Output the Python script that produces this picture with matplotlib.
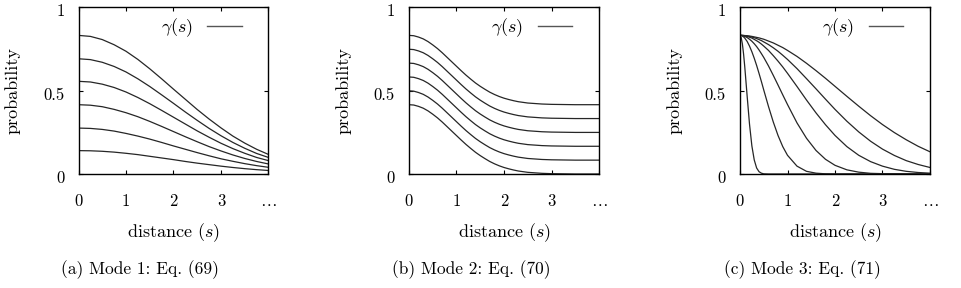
import matplotlib
matplotlib.use("Agg")
import matplotlib.pyplot as plt
import matplotlib.transforms as mtransforms
from matplotlib.lines import Line2D

plt.rcParams['font.family'] = 'serif'
plt.rcParams['font.serif'] = ['cmr10', 'DejaVu Serif']
plt.rcParams['mathtext.fontset'] = 'cm'
plt.rcParams['axes.unicode_minus'] = False

# mode 1 (Eq. 69)
s_a = [0, 0.25, 0.5, 0.75, 1, 1.25, 1.5, 1.75, 2, 2.25, 2.5, 2.75, 3, 3.25, 3.5, 3.75, 4]
mode1 = [
    [0.830, 0.824, 0.805, 0.774, 0.735, 0.686, 0.630, 0.570, 0.508, 0.447, 0.386, 0.329, 0.276, 0.227, 0.185, 0.148, 0.117],
    [0.690, 0.685, 0.669, 0.644, 0.611, 0.570, 0.524, 0.474, 0.423, 0.371, 0.321, 0.273, 0.229, 0.189, 0.154, 0.123, 0.099],
    [0.555, 0.551, 0.538, 0.518, 0.491, 0.458, 0.421, 0.381, 0.340, 0.299, 0.258, 0.220, 0.184, 0.152, 0.124, 0.099, 0.080],
    [0.415, 0.412, 0.403, 0.387, 0.367, 0.343, 0.315, 0.285, 0.254, 0.223, 0.193, 0.164, 0.138, 0.114, 0.093, 0.075, 0.060],
    [0.275, 0.273, 0.267, 0.257, 0.243, 0.227, 0.209, 0.189, 0.168, 0.148, 0.128, 0.109, 0.091, 0.076, 0.062, 0.050, 0.040],
    [0.140, 0.139, 0.136, 0.131, 0.124, 0.116, 0.106, 0.096, 0.086, 0.075, 0.065, 0.056, 0.047, 0.039, 0.032, 0.026, 0.021],
]

# mode 2 (Eq. 70)
s_b = [0, 0.1, 0.2, 0.3, 0.4, 0.5, 0.6, 0.7, 0.8, 0.9, 1.0, 1.1, 1.2, 1.3, 1.4, 1.5,
       1.6, 1.7, 1.8, 1.9, 2.0, 2.1, 2.2, 2.3, 2.4, 2.5, 2.6, 2.8, 3.0, 3.5, 4.0]
mode2 = [
    [0.830, 0.828, 0.820, 0.809, 0.793, 0.773, 0.751, 0.726, 0.699, 0.672, 0.645, 0.618, 0.592, 0.568, 0.545, 0.525,
     0.507, 0.490, 0.476, 0.464, 0.454, 0.446, 0.439, 0.433, 0.429, 0.425, 0.423, 0.419, 0.417, 0.415, 0.415],
    [0.747, 0.745, 0.737, 0.726, 0.710, 0.690, 0.668, 0.643, 0.616, 0.589, 0.562, 0.535, 0.509, 0.485, 0.462, 0.442,
     0.424, 0.407, 0.393, 0.381, 0.371, 0.363, 0.356, 0.350, 0.346, 0.342, 0.340, 0.336, 0.334, 0.332, 0.332],
    [0.664, 0.662, 0.654, 0.643, 0.627, 0.607, 0.585, 0.560, 0.533, 0.506, 0.479, 0.452, 0.426, 0.402, 0.379, 0.359,
     0.341, 0.324, 0.310, 0.298, 0.288, 0.280, 0.273, 0.267, 0.263, 0.259, 0.257, 0.253, 0.251, 0.249, 0.249],
    [0.581, 0.579, 0.571, 0.560, 0.544, 0.524, 0.502, 0.477, 0.450, 0.423, 0.396, 0.369, 0.343, 0.319, 0.296, 0.276,
     0.258, 0.241, 0.227, 0.215, 0.205, 0.197, 0.190, 0.184, 0.180, 0.176, 0.174, 0.170, 0.168, 0.166, 0.166],
    [0.498, 0.496, 0.488, 0.477, 0.461, 0.441, 0.419, 0.394, 0.367, 0.340, 0.313, 0.286, 0.260, 0.236, 0.213, 0.193,
     0.175, 0.158, 0.144, 0.132, 0.122, 0.114, 0.107, 0.101, 0.097, 0.093, 0.091, 0.087, 0.085, 0.083, 0.083],
    [0.415, 0.413, 0.405, 0.394, 0.378, 0.358, 0.336, 0.311, 0.284, 0.257, 0.230, 0.203, 0.177, 0.153, 0.130, 0.110,
     0.092, 0.075, 0.061, 0.049, 0.039, 0.031, 0.024, 0.018, 0.014, 0.010, 0.008, 0.004, 0.002, 0.000, 0.000],
]

# mode 3 (Eq. 71), denser near zero
s_c = [0, 0.025, 0.05, 0.075, 0.1, 0.15, 0.2, 0.25, 0.3, 0.35, 0.4, 0.45, 0.5,
       0.6, 0.7, 0.8, 0.9, 1.0, 1.2, 1.4, 1.6, 1.8, 2.0, 2.25, 2.5, 2.75, 3.0, 3.25, 3.5, 3.75, 4.0]
mode3 = [
    [0.830, 0.830, 0.830, 0.830, 0.829, 0.828, 0.826, 0.824, 0.821, 0.818, 0.815, 0.811, 0.807,
     0.796, 0.785, 0.771, 0.757, 0.740, 0.704, 0.663, 0.619, 0.573, 0.525, 0.465, 0.406, 0.349, 0.296,
     0.248, 0.205, 0.166, 0.133],
    [0.830, 0.830, 0.830, 0.829, 0.828, 0.826, 0.824, 0.820, 0.816, 0.811, 0.805, 0.799, 0.791,
     0.775, 0.756, 0.735, 0.711, 0.686, 0.631, 0.571, 0.510, 0.448, 0.387, 0.316, 0.252, 0.196, 0.149,
     0.111, 0.080, 0.057, 0.039],
    [0.830, 0.830, 0.829, 0.828, 0.827, 0.824, 0.819, 0.814, 0.806, 0.798, 0.789, 0.778, 0.766,
     0.740, 0.709, 0.676, 0.641, 0.603, 0.524, 0.443, 0.366, 0.295, 0.231, 0.164, 0.112, 0.074, 0.047,
     0.028, 0.016, 0.009, 0.005],
    [0.830, 0.830, 0.829, 0.827, 0.824, 0.817, 0.807, 0.795, 0.780, 0.763, 0.743, 0.721, 0.698,
     0.647, 0.591, 0.533, 0.474, 0.416, 0.306, 0.214, 0.141, 0.088, 0.052, 0.025, 0.011, 0.004, 0.002,
     0.001, 0.000, 0.000, 0.000],
    [0.830, 0.829, 0.826, 0.821, 0.814, 0.794, 0.766, 0.732, 0.693, 0.650, 0.603, 0.554, 0.503,
     0.404, 0.312, 0.231, 0.164, 0.112, 0.047, 0.016, 0.005, 0.001, 0.000, 0.000, 0.000, 0.000, 0.000,
     0.000, 0.000, 0.000, 0.000],
    [0.830, 0.817, 0.779, 0.719, 0.643, 0.468, 0.299, 0.168, 0.084, 0.036, 0.014, 0.005, 0.001,
     0.000, 0.000, 0.000, 0.000, 0.000, 0.000, 0.000, 0.000, 0.000, 0.000, 0.000, 0.000, 0.000, 0.000,
     0.000, 0.000, 0.000, 0.000],
]

captions = ['(a) Mode 1: Eq. (69)', '(b) Mode 2: Eq. (70)', '(c) Mode 3: Eq. (71)']
xticks = [0, 1, 2, 3, 4]
xticklabels = ['0', '1', '2', '3', r'$\ldots$']
yticks = [0, 0.5, 1]
yticklabels = ['0', '0.5', '1']

W, H = 962, 288
fig = plt.figure(figsize=(W / 100, H / 100), dpi=100)

lefts = [78.5, 409, 740]
caption_x = [140, 471, 802]
panels = [(s_a, mode1), (s_b, mode2), (s_c, mode3)]
line_color = '#262626'

for i, (xs, curves) in enumerate(panels):
    ax = fig.add_axes([lefts[i] / W, (H - 174) / H, 190 / W, 167 / H])
    for ys in curves:
        ax.plot(xs, ys, color=line_color, lw=0.9)
    ax.set_xlim(0, 4)
    ax.set_ylim(0, 1)
    ax.set_xticks(xticks)
    ax.set_xticklabels(xticklabels)
    ax.set_yticks(yticks)
    ax.set_yticklabels(yticklabels)
    ax.tick_params(direction='in', length=3, width=0.8, top=True, right=True,
                   labelsize=12, colors='black')
    ax.tick_params(axis='x', pad=14)
    ax.tick_params(axis='y', pad=10)
    for sp in ax.spines.values():
        sp.set_linewidth(1.0)
        sp.set_color('black')
    # labels sit a little low in the original
    off = mtransforms.ScaledTranslation(0, -3 / 100, fig.dpi_scale_trans)
    for lab in ax.get_yticklabels():
        lab.set_transform(lab.get_transform() + off)

    ax.set_xlabel(r'distance $(s)$', fontsize=13)
    ax.xaxis.set_label_coords(0.5, -0.285)
    ax.set_ylabel('probability', fontsize=13)
    ax.yaxis.set_label_coords(-0.305, 0.5)

    handle = Line2D([], [], color='#555555', lw=1.0)
    ax.legend([handle], [r'$\gamma(s)$'], loc='upper right', bbox_to_anchor=(0.896, 0.985),
              frameon=False, markerfirst=False, handlelength=1.9, handletextpad=0.8,
              borderaxespad=0, fontsize=13)

    fig.text(caption_x[i] / W, 1 - 270 / H, captions[i], ha='center', va='center', fontsize=12.5)

fig.savefig('out.png', dpi=100)
